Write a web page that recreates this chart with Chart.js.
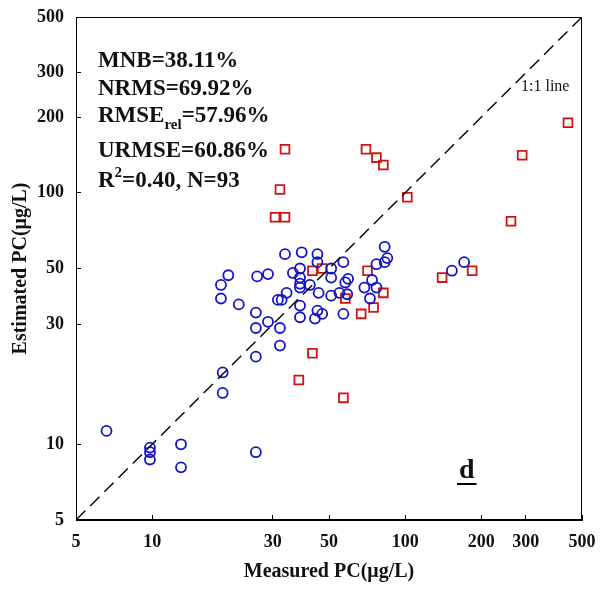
<!DOCTYPE html>
<html>
<head>
<meta charset="utf-8">
<script src="https://cdn.jsdelivr.net/npm/chart.js@4.4.0/dist/chart.umd.min.js"></script>
<style>
  html, body { margin: 0; padding: 0; background: #fff; }
  #wrap { width: 600px; height: 590px; }
</style>
</head>
<body>
<div id="wrap"><canvas id="grafico" width="600" height="590"></canvas></div>
<script>
// Valores leídos a ojo del gráfico original (escala log-log, µg/L)
const TICKS = [5, 10, 30, 50, 100, 200, 300, 500];

// Círculos azules
const circX = [6.6, 9.8, 9.8, 9.8, 13, 13, 25.7, 19, 19,
  20, 18.7, 18.7, 26, 28.7, 22, 25.7, 25.7, 28.7, 31.4, 32.5, 34, 32, 32, 25.7,
  33.5, 39, 36, 38.4, 38.4, 38.4, 38.4, 38.4, 38.4,
  45, 45, 57, 51, 51, 42, 45.5, 51, 55, 58, 59.5, 59, 45, 44, 47, 57,
  83, 85, 83, 77, 74, 69, 77, 72.6, 153, 171];
const circY = [11.3, 9.7, 9.3, 8.7, 10, 8.1, 9.3, 19.3, 16,
  47, 43, 38, 46.5, 47.5, 36, 33.4, 29, 30.7, 37.5, 37.5, 40, 29, 24.7, 22.3,
  57, 58, 48, 50, 46, 43.5, 42, 35.6, 32,
  57, 53, 53, 50, 46, 43, 40, 39, 40, 44, 45.5, 39.5, 34, 31.6, 33, 33,
  61, 55, 53, 52, 45, 42, 42, 38, 49, 53];

// Cuadrados rojos
const sqX = [33.5, 32, 30.6, 33.5, 70, 77, 82, 102,
  290, 262, 140, 184, 440,
  43, 47, 71, 82, 58, 75, 67, 43, 38, 57];
const sqY = [149, 103, 80, 80, 149, 138, 129, 96,
  141, 77, 46, 49, 190,
  49, 50, 49, 40, 38, 35, 33, 23, 18, 15.3];

// Línea 1:1
const lineaX = [5, 500];
const lineaY = [5, 500];

const FUENTE = '"Liberation Serif", "Times New Roman", serif';

const aPuntos = (xs, ys) => xs.map((x, i) => ({ x, y: ys[i] }));

// Textos de estadísticos, el marco y la "d"
const textosPlugin = {
  id: 'textos',
  afterDraw(chart) {
    const { ctx, chartArea: a } = chart;
    ctx.save();
    ctx.strokeStyle = '#000';
    ctx.lineWidth = 1;
    ctx.strokeRect(a.left + 0.5, a.top + 0.5, a.right - a.left - 1, a.bottom - a.top - 1);

    ctx.fillStyle = '#111';
    ctx.textBaseline = 'alphabetic';
    ctx.textAlign = 'left';
    const big = 'bold 23px ' + FUENTE;
    const small = 'bold 15px ' + FUENTE;
    const x0 = a.left + 22;
    ctx.font = big;
    ctx.fillText('MNB=38.11%', x0, 67);
    ctx.fillText('NRMS=69.92%', x0, 95);
    ctx.fillText('RMSE', x0, 122);
    let w = ctx.measureText('RMSE').width;
    ctx.font = small;
    ctx.fillText('rel', x0 + w, 129);
    let w2 = ctx.measureText('rel').width;
    ctx.font = big;
    ctx.fillText('=57.96%', x0 + w + w2, 122);
    ctx.fillText('URMSE=60.86%', x0, 157);
    ctx.fillText('R', x0, 187);
    w = ctx.measureText('R').width;
    ctx.font = small;
    ctx.fillText('2', x0 + w, 177);
    w2 = ctx.measureText('2').width;
    ctx.font = big;
    ctx.fillText('=0.40, N=93', x0 + w + w2, 187);

    ctx.font = '16px ' + FUENTE;
    ctx.fillText('1:1 line', 521, 91);

    ctx.font = 'bold 28px ' + FUENTE;
    ctx.fillText('d', 459, 478);
    const wd = ctx.measureText('d').width;
    ctx.lineWidth = 2;
    ctx.beginPath();
    ctx.moveTo(457, 484);
    ctx.lineTo(461 + wd, 484);
    ctx.stroke();
    ctx.restore();
  }
};

const ejeLog = (titulo, pos) => ({
  type: 'logarithmic',
  position: pos,
  min: 5,
  max: 500,
  afterBuildTicks: (s) => { s.ticks = TICKS.map(v => ({ value: v })); },
  afterFit: (s) => {
    if (pos === 'left') { s.width = 76; s.paddingTop = 0; s.paddingBottom = 0; }
    else { s.height = 70; s.paddingLeft = 0; s.paddingRight = 0; }
  },
  ticks: {
    autoSkip: false,
    maxRotation: 0,
    padding: 17,
    color: '#111',
    font: { family: FUENTE, size: 18, weight: 'bold' },
    callback: (v) => String(v)
  },
  grid: { drawOnChartArea: false, drawTicks: true, tickLength: -5, color: '#000' },
  border: { display: true, color: '#000', width: 1 },
  title: {
    display: true,
    text: titulo,
    color: '#111',
    font: { family: FUENTE, size: 20, weight: 'bold' },
    padding: pos === 'left' ? { top: 9, bottom: 0 } : { top: 0, bottom: 6 }
  }
});

new Chart(document.getElementById('grafico'), {
  type: 'scatter',
  data: {
    datasets: [
      {
        type: 'line',
        data: aPuntos(lineaX, lineaY),
        borderColor: '#000',
        borderWidth: 1.4,
        borderDash: [13, 7],
        pointRadius: 0,
        fill: false
      },
      {
        data: aPuntos(circX, circY),
        pointStyle: 'circle',
        pointRadius: 5,
        borderColor: '#1414c8',
        borderWidth: 1.8,
        backgroundColor: 'rgba(0,0,0,0)'
      },
      {
        data: aPuntos(sqX, sqY),
        pointStyle: 'rect',
        pointRadius: 6.2,
        borderColor: '#d01414',
        borderWidth: 1.8,
        backgroundColor: 'rgba(0,0,0,0)'
      }
    ]
  },
  options: {
    responsive: false,
    devicePixelRatio: 1,
    animation: false,
    layout: { padding: { top: 17, right: 18, left: 0, bottom: 0 } },
    plugins: { legend: { display: false }, tooltip: { enabled: false } },
    scales: {
      x: ejeLog('Measured PC(μg/L)', 'bottom'),
      y: ejeLog('Estimated PC(μg/L)', 'left')
    }
  },
  plugins: [textosPlugin]
});
</script>
</body>
</html>
